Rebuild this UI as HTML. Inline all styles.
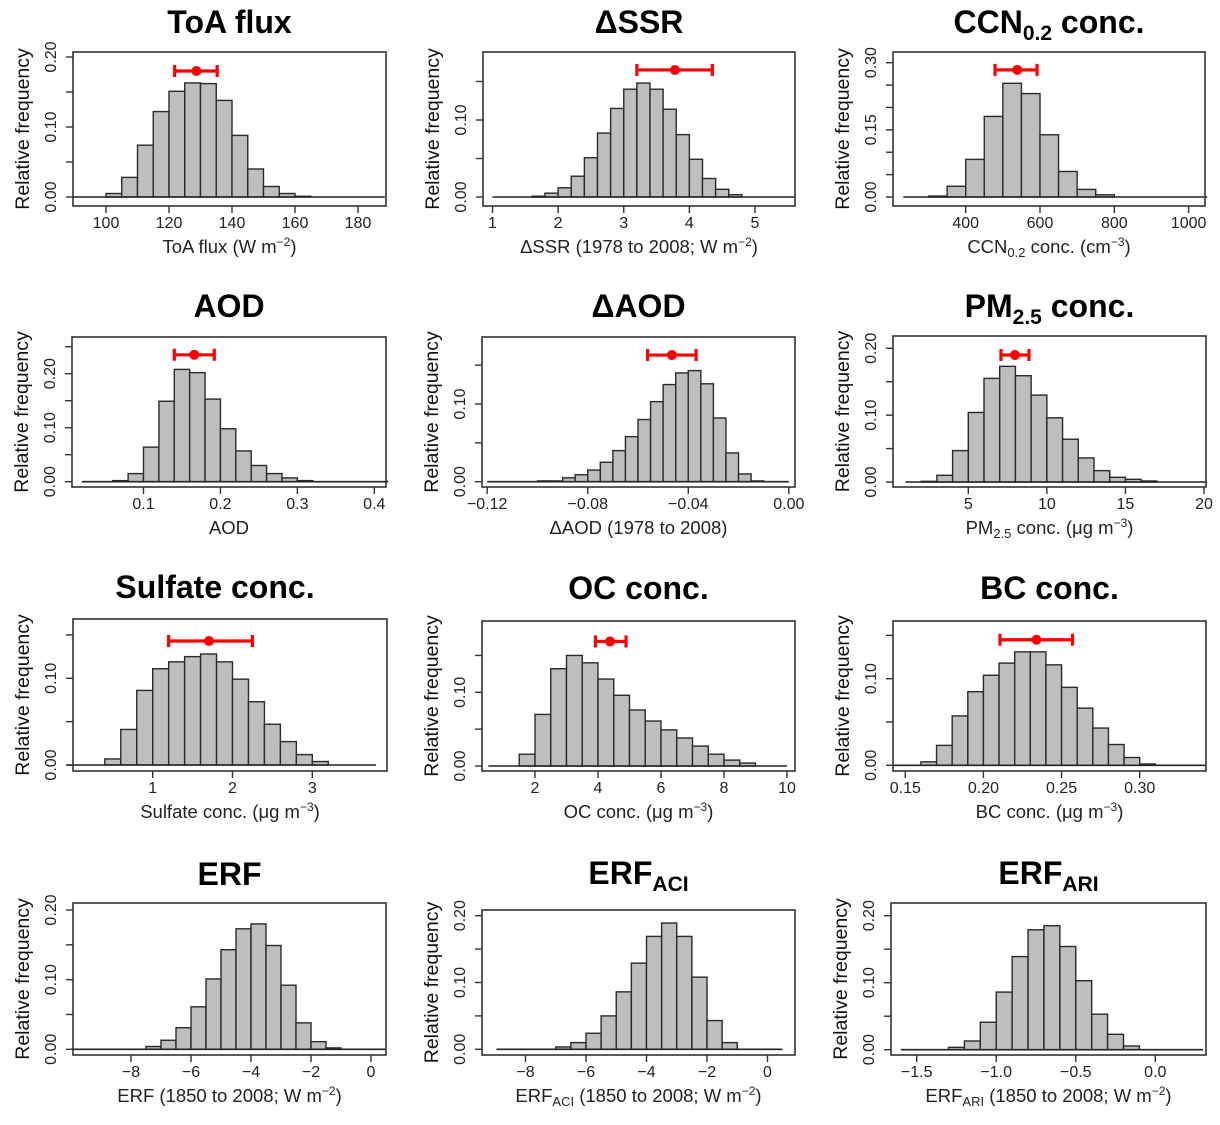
<!DOCTYPE html>
<html><head><meta charset="utf-8">
<style>
html,body{margin:0;padding:0;background:#fff;}
svg{display:block;font-family:"Liberation Sans",Arial,sans-serif;}
</style></head>
<body>
<svg id="fig" width="1220" height="1125" viewBox="0 0 1220 1125" xmlns="http://www.w3.org/2000/svg"></svg>
<script>
// ---- data arrays (relative frequency per bin) ----
const toaBinStart = 100, toaBinWidth = 5;
const toaValues = [0.005,0.028,0.074,0.122,0.151,0.163,0.162,0.138,0.088,0.040,0.015,0.005,0.001];
const toaErr = [121.8,128.7,135.3,0.18];
const toaXTicks = [100,120,140,160,180];
const toaXLabels = ['100','120','140','160','180'];
const toaYTicks = [0,0.05,0.1,0.15,0.2];
const toaYLabels = ['0.00','','0.10','','0.20'];

const ssrBinStart = 1.6, ssrBinWidth = 0.2;
const ssrValues = [0.001,0.005,0.012,0.027,0.051,0.083,0.115,0.140,0.148,0.140,0.114,0.081,0.049,0.024,0.010,0.003];
const ssrErr = [3.2,3.78,4.35,0.165];
const ssrXTicks = [1,2,3,4,5];
const ssrXLabels = ['1','2','3','4','5'];
const ssrYTicks = [0,0.05,0.1,0.15];
const ssrYLabels = ['0.00','','0.10',''];

const ccnBinStart = 300, ccnBinWidth = 50;
const ccnValues = [0.002,0.024,0.084,0.180,0.254,0.231,0.139,0.057,0.017,0.005];
const ccnErr = [479,539,592,0.284];
const ccnXTicks = [400,600,800,1000];
const ccnXLabels = ['400','600','800','1000'];
const ccnYTicks = [0,0.05,0.1,0.15,0.2,0.25,0.3];
const ccnYLabels = ['0.00','','','0.15','','','0.30'];

const aodBinStart = 0.06, aodBinWidth = 0.02;
const aodValues = [0.002,0.015,0.064,0.149,0.208,0.202,0.153,0.098,0.057,0.030,0.015,0.007,0.002];
const aodErr = [0.140,0.166,0.192,0.235];
const aodXTicks = [0.1,0.2,0.3,0.4];
const aodXLabels = ['0.1','0.2','0.3','0.4'];
const aodYTicks = [0,0.05,0.1,0.15,0.2,0.25];
const aodYLabels = ['0.00','','0.10','','0.20',''];

const daodBinStart = -0.10, daodBinWidth = 0.005;
const daodValues = [0.001,0.001,0.005,0.009,0.015,0.025,0.040,0.058,0.080,0.103,0.125,0.140,0.143,0.126,0.082,0.037,0.010,0.001];
const daodErr = [-0.0562,-0.0465,-0.0369,0.163];
const daodXTicks = [-0.12,-0.08,-0.04,0];
const daodXLabels = ['\u22120.12','\u22120.08','\u22120.04','0.00'];
const daodYTicks = [0,0.05,0.1,0.15];
const daodYLabels = ['0.00','','0.10',''];

const pmBinStart = 2, pmBinWidth = 1;
const pmValues = [0.001,0.010,0.047,0.104,0.155,0.173,0.159,0.130,0.096,0.064,0.036,0.017,0.007,0.004,0.0015];
const pmErr = [7.08,7.97,8.86,0.19];
const pmXTicks = [5,10,15,20];
const pmXLabels = ['5','10','15','20'];
const pmYTicks = [0,0.05,0.1,0.15,0.2];
const pmYLabels = ['0.00','','0.10','','0.20'];

const so4BinStart = 0.4, so4BinWidth = 0.2;
const so4Values = [0.007,0.041,0.086,0.111,0.119,0.125,0.128,0.119,0.099,0.073,0.047,0.027,0.012,0.004];
const so4Err = [1.20,1.705,2.25,0.143];
const so4XTicks = [1,2,3];
const so4XLabels = ['1','2','3'];
const so4YTicks = [0,0.05,0.1,0.15];
const so4YLabels = ['0.00','','0.10',''];

const ocBinStart = 1.5, ocBinWidth = 0.5;
const ocValues = [0.016,0.070,0.132,0.150,0.140,0.118,0.096,0.076,0.061,0.049,0.038,0.027,0.016,0.008,0.004];
const ocErr = [3.92,4.38,4.89,0.169];
const ocXTicks = [2,4,6,8,10];
const ocXLabels = ['2','4','6','8','10'];
const ocYTicks = [0,0.05,0.1,0.15];
const ocYLabels = ['0.00','','0.10',''];

const bcBinStart = 0.16, bcBinWidth = 0.01;
const bcValues = [0.004,0.023,0.057,0.085,0.104,0.118,0.131,0.131,0.116,0.090,0.066,0.043,0.024,0.009,0.0015];
const bcErr = [0.2106,0.234,0.257,0.145];
const bcXTicks = [0.15,0.20,0.25,0.30];
const bcXLabels = ['0.15','0.20','0.25','0.30'];
const bcYTicks = [0,0.05,0.1,0.15];
const bcYLabels = ['0.00','','0.10',''];

const erfBinStart = -7.5, erfBinWidth = 0.5;
const erfValues = [0.004,0.013,0.031,0.061,0.101,0.143,0.173,0.180,0.149,0.092,0.038,0.011,0.002];
const erfXTicks = [-8,-6,-4,-2,0];
const erfXLabels = ['\u22128','\u22126','\u22124','\u22122','0'];
const erfYTicks = [0,0.05,0.1,0.15,0.2];
const erfYLabels = ['0.00','','0.10','','0.20'];

const aciBinStart = -7.0, aciBinWidth = 0.5;
const aciValues = [0.0035,0.010,0.024,0.050,0.086,0.129,0.169,0.189,0.169,0.108,0.043,0.010];
const aciXTicks = [-8,-6,-4,-2,0];
const aciXLabels = ['\u22128','\u22126','\u22124','\u22122','0'];
const aciYTicks = [0,0.05,0.1,0.15,0.2];
const aciYLabels = ['0.00','','0.10','','0.20'];

const ariBinStart = -1.3, ariBinWidth = 0.1;
const ariValues = [0.0035,0.013,0.041,0.086,0.139,0.179,0.185,0.154,0.103,0.053,0.023,0.0055];
const ariXTicks = [-1.5,-1.0,-0.5,0.0];
const ariXLabels = ['\u22121.5','\u22121.0','\u22120.5','0.0'];
const ariYTicks = [0,0.05,0.1,0.15,0.2];
const ariYLabels = ['0.00','','0.10','','0.20'];

// ---- layout (positions / calibration, not data) ----
const sup = s => '<tspan dy="-7" font-size="12">'+s+'</tspan><tspan dy="7">)</tspan>';
const panels = [
 {key:'toa-flux', box:[73,52,386,206], xc:[100,106,180,358], yc:[0,197,0.2,57], tb:33,
  start:toaBinStart, w:toaBinWidth, vals:toaValues, err:toaErr, xt:toaXTicks, xl:toaXLabels, yt:toaYTicks, yl:toaYLabels, base:[89.5,188.5],
  title:'ToA flux', xlab:'ToA flux  (W m'+sup('\u22122')},
 {key:'delta-ssr', box:[483,52,795,206], xc:[1,492.5,5,755], yc:[0,197,0.1,120], tb:33,
  start:ssrBinStart, w:ssrBinWidth, vals:ssrValues, err:ssrErr, xt:ssrXTicks, xl:ssrXLabels, yt:ssrYTicks, yl:ssrYLabels, base:[1.0,5.6],
  title:'\u0394SSR', xlab:'\u0394SSR (1978 to 2008; W m'+sup('\u22122')},
 {key:'ccn-conc', box:[893,52,1205,206], xc:[400,965.7,1000,1188.6], yc:[0,197,0.3,62.7], tb:33,
  start:ccnBinStart, w:ccnBinWidth, vals:ccnValues, err:ccnErr, xt:ccnXTicks, xl:ccnXLabels, yt:ccnYTicks, yl:ccnYLabels, base:[232,1050],
  title:'CCN<tspan font-size="21" dy="7">0.2</tspan><tspan dy="-7"> conc.</tspan>', xlab:'CCN<tspan font-size="13" dy="4">0.2</tspan><tspan dy="-4">  conc. (cm</tspan>'+sup('\u22123')},
 {key:'aod', box:[72,337,386,487], xc:[0.1,143.5,0.4,374.3], yc:[0,481.7,0.2,373.7], tb:317,
  start:aodBinStart, w:aodBinWidth, vals:aodValues, err:aodErr, xt:aodXTicks, xl:aodXLabels, yt:aodYTicks, yl:aodYLabels, base:[0.02,0.418],
  title:'AOD', xlab:'AOD'},
 {key:'delta-aod', box:[482,337,795,487], xc:[-0.12,487.2,0,788.8], yc:[0,481.7,0.1,404], tb:317,
  start:daodBinStart, w:daodBinWidth, vals:daodValues, err:daodErr, xt:daodXTicks, xl:daodXLabels, yt:daodYTicks, yl:daodYLabels, base:[-0.12,0.0],
  title:'\u0394AOD', xlab:'\u0394AOD (1978 to 2008)'},
 {key:'pm25-conc', box:[893,336,1206,487], xc:[5,968.3,20,1204], yc:[0,482,0.2,348.3], tb:317,
  start:pmBinStart, w:pmBinWidth, vals:pmValues, err:pmErr, xt:pmXTicks, xl:pmXLabels, yt:pmYTicks, yl:pmYLabels, base:[1,20.2],
  title:'PM<tspan font-size="21" dy="7">2.5</tspan><tspan dy="-7"> conc.</tspan>', xlab:'PM<tspan font-size="13" dy="4">2.5</tspan><tspan dy="-4"> conc. (\u03bcg m</tspan>'+sup('\u22123')},
 {key:'sulfate-conc', box:[73,619,387,771], xc:[1,152.7,3,312.3], yc:[0,765,0.1,678.3], tb:598,
  start:so4BinStart, w:so4BinWidth, vals:so4Values, err:so4Err, xt:so4XTicks, xl:so4XLabels, yt:so4YTicks, yl:so4YLabels, base:[-0.08,3.8],
  title:'Sulfate conc.', tx:215, xlab:'Sulfate conc. (\u03bcg m'+sup('\u22123')},
 {key:'oc-conc', box:[482,621,795,771], xc:[2,535,10,787], yc:[0,766,0.1,692.3], tb:599,
  start:ocBinStart, w:ocBinWidth, vals:ocValues, err:ocErr, xt:ocXTicks, xl:ocXLabels, yt:ocYTicks, yl:ocYLabels, base:[0.52,10],
  title:'OC conc.', xlab:'OC  conc. (\u03bcg m'+sup('\u22123')},
 {key:'bc-conc', box:[893,621,1206,771], xc:[0.15,905.3,0.3,1139.7], yc:[0,765.3,0.1,678.7], tb:599,
  start:bcBinStart, w:bcBinWidth, vals:bcValues, err:bcErr, xt:bcXTicks, xl:bcXLabels, yt:bcYTicks, yl:bcYLabels, base:[0.142,0.342],
  title:'BC conc.', xlab:'BC  conc. (\u03bcg m'+sup('\u22123')},
 {key:'erf', box:[73,903,386,1055], xc:[-8,131,0,371], yc:[0,1049.3,0.2,910], tb:885,
  start:erfBinStart, w:erfBinWidth, vals:erfValues, err:null, xt:erfXTicks, xl:erfXLabels, yt:erfYTicks, yl:erfYLabels, base:[-10,0.5],
  title:'ERF', xlab:'ERF (1850 to 2008; W m'+sup('\u22122')},
 {key:'erf-aci', box:[482,910,795,1055], xc:[-8,525.5,0,767.5], yc:[0,1049.3,0.2,915.7], tb:884,
  start:aciBinStart, w:aciBinWidth, vals:aciValues, err:null, xt:aciXTicks, xl:aciXLabels, yt:aciYTicks, yl:aciYLabels, base:[-8.96,0.5],
  title:'ERF<tspan font-size="21" dy="7">ACI</tspan>', xlab:'ERF<tspan font-size="13" dy="4">ACI</tspan><tspan dy="-4"> (1850 to 2008; W m</tspan>'+sup('\u22122')},
 {key:'erf-ari', box:[891,903,1206,1055], xc:[-1.5,916.7,0,1155.3], yc:[0,1049.7,0.2,915.7], tb:884,
  start:ariBinStart, w:ariBinWidth, vals:ariValues, err:null, xt:ariXTicks, xl:ariXLabels, yt:ariYTicks, yl:ariYLabels, base:[-1.6,0.3],
  title:'ERF<tspan font-size="21" dy="7">ARI</tspan>', xlab:'ERF<tspan font-size="13" dy="4">ARI</tspan><tspan dy="-4"> (1850 to 2008; W m</tspan>'+sup('\u22122')}
];

const NS = 'http://www.w3.org/2000/svg';
const svg = document.getElementById('fig');
function mk(tag, attrs, parent){
  const e = document.createElementNS(NS, tag);
  for (const k in attrs) e.setAttribute(k, attrs[k]);
  parent.appendChild(e);
  return e;
}

panels.forEach(p => {
  const [bx0,by0,bx1,by1] = p.box;
  const X = v => p.xc[1] + (v - p.xc[0]) * (p.xc[3] - p.xc[1]) / (p.xc[2] - p.xc[0]);
  const Y = v => p.yc[1] + (v - p.yc[0]) * (p.yc[3] - p.yc[1]) / (p.yc[2] - p.yc[0]);
  const g = mk('g', {}, svg);
  
  

  const t = mk('text', {x:(p.tx || (bx0+bx1)/2), y:p.tb, 'text-anchor':'middle', 'font-size':32, 'font-weight':'bold', fill:'#000'}, g);
  t.innerHTML = p.title;
  
  

  p.vals.forEach((v, i) => {
    const a = p.start + i * p.w, b = a + p.w;
    const r = mk('rect', {x:X(a), y:Y(v), width:X(b)-X(a), height:Y(0)-Y(v), fill:'#bebebe', stroke:'#2a2a2a', 'stroke-width':1.4}, g);
    
    
  });

  const bl = mk('line', {x1:X(p.base[0]), x2:X(p.base[1]), y1:Y(0), y2:Y(0), stroke:'#222', 'stroke-width':1.6}, g);
  
  

  const bxr = mk('rect', {x:bx0, y:by0, width:bx1-bx0, height:by1-by0, fill:'none', stroke:'#333', 'stroke-width':1.6}, g);
  
  

  p.xt.forEach((v, i) => {
    mk('line', {x1:X(v), x2:X(v), y1:by1, y2:by1+7, stroke:'#333', 'stroke-width':1.4}, g);
    const tl = mk('text', {x:X(v), y:by1+22, 'text-anchor':'middle', 'font-size':16, fill:'#222'}, g);
    tl.textContent = p.xl[i];
    
    
  });
  p.yt.forEach((v, i) => {
    mk('line', {x1:bx0-7, x2:bx0, y1:Y(v), y2:Y(v), stroke:'#333', 'stroke-width':1.4}, g);
    if (p.yl[i]) {
      const yl = mk('text', {x:bx0-17, y:Y(v), 'text-anchor':'middle', 'font-size':16, fill:'#222', transform:'rotate(-90 '+(bx0-17)+' '+Y(v)+')'}, g);
      yl.textContent = p.yl[i];
      
      
    }
  });

  const xt = mk('text', {x:(bx0+bx1)/2, y:by1+47, 'text-anchor':'middle', 'font-size':18.5, fill:'#222'}, g);
  xt.innerHTML = p.xlab;
  
  
  const cy = (by0+by1)/2, cx = bx0-44;
  const yt = mk('text', {x:cx, y:cy, 'text-anchor':'middle', 'font-size':19.5, fill:'#111', transform:'rotate(-90 '+cx+' '+cy+')'}, g);
  yt.textContent = 'Relative frequency';
  
  

  if (p.err) {
    const [lo, mid, hi, ev] = p.err;
    const eg = mk('g', {stroke:'#ff0000', fill:'#ff0000', 'stroke-width':3.2}, g);
    
    
    mk('line', {x1:X(lo), x2:X(hi), y1:Y(ev), y2:Y(ev)}, eg);
    mk('line', {x1:X(lo), x2:X(lo), y1:Y(ev)-6, y2:Y(ev)+6}, eg);
    mk('line', {x1:X(hi), x2:X(hi), y1:Y(ev)-6, y2:Y(ev)+6}, eg);
    mk('circle', {cx:X(mid), cy:Y(ev), r:4.5, 'stroke-width':1}, eg);
  }
});
</script>
</body></html>
